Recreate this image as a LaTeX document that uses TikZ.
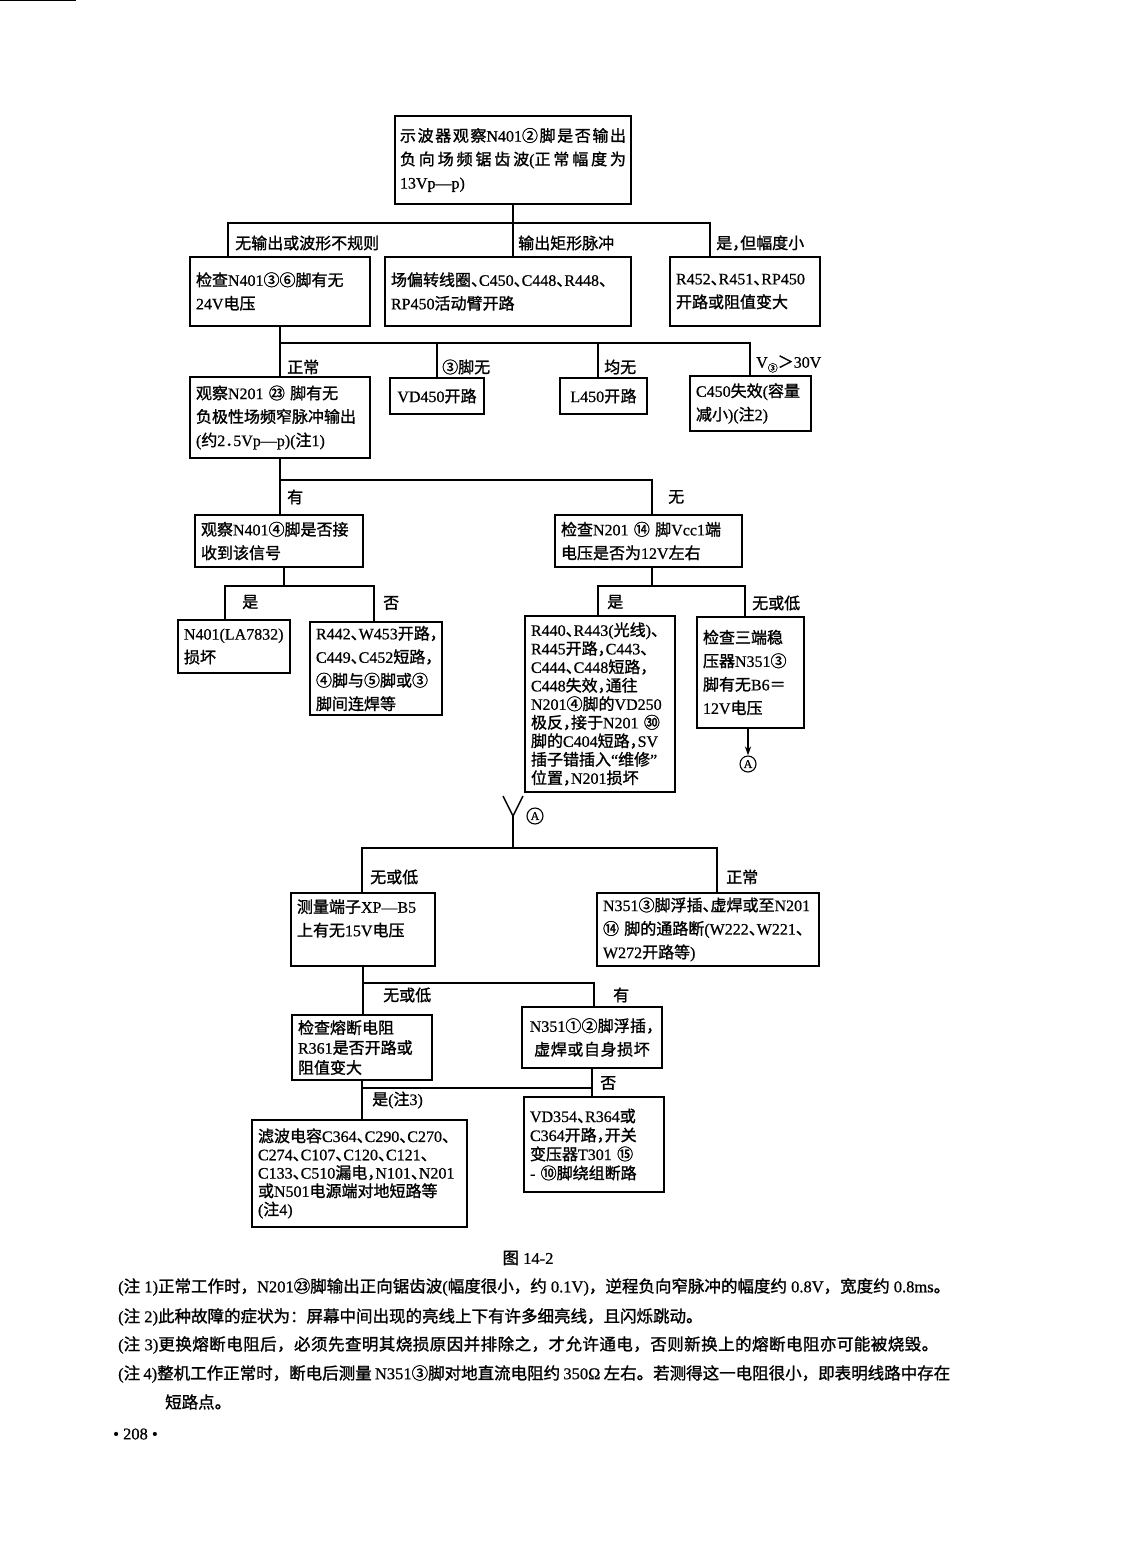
\documentclass[tikz,border=0pt]{standalone}
\usepackage{fontspec}
\setmainfont{Liberation Serif}
\newfontfamily\latfont[FakeBold=0.7]{Liberation Serif}
\newfontfamily\cjkfont[RawFeature=+halt, FakeBold=1.3]{Noto Sans CJK SC}
\newfontfamily\cjkfontfull[FakeBold=1.3]{Noto Sans CJK SC}
\usetikzlibrary{arrows.meta,calc}
\newcommand\cjkf{\cjkfont}
\newcount\cjkc
\newXeTeXintercharclass\CJKcls
\newcommand\setcjkrange[2]{\cjkc=#1\relax\loop\XeTeXcharclass\cjkc=\CJKcls\advance\cjkc by 1\relax\ifnum\cjkc<#2\relax\repeat}
\setcjkrange{"4E00}{"A000}
\setcjkrange{"3000}{"3040}
\setcjkrange{"3200}{"3300}
\setcjkrange{"FF00}{"FFF0}
\setcjkrange{"2460}{"2500}
\XeTeXinterchartoks 0 \CJKcls = {\cjkf}
\XeTeXinterchartoks 4095 \CJKcls = {\cjkf}
\XeTeXinterchartoks \CJKcls 0 = {\latfont}
\XeTeXinterchartoks \CJKcls 4095 = {\latfont}
\XeTeXinterchartoks \CJKcls \CJKcls = {\nobreak\hskip0pt plus 3pt\relax}
\XeTeXinterchartokenstate=1
\newcommand\bxf{\fontsize{16}{23.5}\selectfont\latfont}
\newcommand\notef{\renewcommand\cjkf{\cjkfontfull}\fontsize{16.5}{20}\selectfont\latfont}
\begin{document}
\begin{tikzpicture}[x=1pt,y=-1pt,
  bx/.style={draw, line width=1.6pt, inner xsep=6pt, inner ysep=2pt, outer sep=0pt, align=left, anchor=north west, font=\bxf},
  ln/.style={line width=1.4pt, line join=miter},
  lbl/.style={inner sep=0pt, anchor=west, font=\bxf},
  cA/.style={circle, draw, line width=1.1pt, inner sep=0pt, minimum size=16pt, font=\fontsize{12}{12}\selectfont\latfont},
  note/.style={inner sep=0pt, anchor=west, font=\notef}]
\useasboundingbox (0,0) rectangle (1122,1568);
\draw[line width=1pt] (0,1) -- (76,1);

% boxes
\node[bx, inner xsep=5pt, minimum width=236pt, minimum height=88pt, text width=226pt] (b1) at (395,116)
  {\makebox[226pt][s]{示波器观察N401②脚是否输出}\\\makebox[226pt][s]{负向场频锯齿波(正常幅度为}\\13Vp—p)};
\node[bx, minimum width=180pt, minimum height=69pt, text width=168pt] (b2) at (190,257)
  {检查N401③⑥脚有无\\24V电压};
\node[bx, minimum width=246pt, minimum height=69pt, text width=234pt] (b3) at (385,257)
  {场偏转线圈、C450、C448、R448、\\RP450活动臂开路};
\node[bx, minimum width=150pt, minimum height=69pt, text width=138pt] (b4) at (670,257)
  {R452、R451、RP450\\开路或阻值变大};
\node[bx, minimum width=180pt, minimum height=81pt, text width=168pt] (b5) at (190,377)
  {观察N201 ㉓ 脚有无\\负极性场频窄脉冲输出\\(约2．5Vp—p)(注1)};
\node[bx, align=center, minimum width=94pt, minimum height=36pt, text width=82pt] (b6) at (390,378)
  {VD450开路};
\node[bx, align=center, minimum width=87pt, minimum height=36pt, text width=75pt] (b7) at (560,378)
  {L450开路};
\node[bx, minimum width=121pt, minimum height=55pt, text width=109pt] (b8) at (690,376)
  {C450失效(容量\\减小)(注2)};
\node[bx, minimum width=168pt, minimum height=52pt, text width=156pt] (b9) at (195,515)
  {观察N401④脚是否接\\收到该信号};
\node[bx, minimum width=187pt, minimum height=52pt, text width=175pt] (b10) at (555,515)
  {检查N201 ⑭ 脚Vcc1端\\电压是否为12V左右};
\node[bx, minimum width=112pt, minimum height=53pt, text width=100pt] (b11) at (178,620)
  {N401(LA7832)\\损坏};
\node[bx, minimum width=132pt, minimum height=93pt, text width=120pt] (b12) at (310,622)
  {R442、W453开路，\\C449、C452短路，\\④脚与⑤脚或③\\脚间连焊等};
\node[bx, font={\fontsize{16}{18.5}\selectfont\latfont}, minimum width=150pt, minimum height=176pt, text width=138pt] (b13) at (525,616)
  {R440、R443(光线)、\\R445开路，C443、\\C444、C448短路，\\C448失效，通往\\N201④脚的VD250\\极反，接于N201 ㉚\\脚的C404短路，SV\\插子错插入“维修”\\位置，N201损坏};
\node[bx, minimum width=107pt, minimum height=111pt, text width=95pt] (b14) at (697,617)
  {检查三端稳\\压器N351③\\脚有无B6＝\\12V电压};
\node[bx, minimum width=144pt, minimum height=73pt, text width=132pt] (b15) at (291,893)
  {测量端子XP—B5\\上有无15V电压\\\mbox{}};
\node[bx, minimum width=222pt, minimum height=73pt, text width=210pt] (b16) at (597,893)
  {N351③脚浮插、虚焊或至N201\\⑭ 脚的通路断(W222、W221、\\W272开路等)};
\node[bx, font={\fontsize{16}{20}\selectfont\latfont}, minimum width=140pt, minimum height=65pt, text width=128pt] (b17) at (292,1015)
  {检查熔断电阻\\R361是否开路或\\阻值变大};
\node[bx, align=center, minimum width=140pt, minimum height=61pt, text width=128pt] (b18) at (522,1007)
  {N351①②脚浮插，\\虚焊或自身损坏};
\node[bx, font={\fontsize{16}{19}\selectfont\latfont}, minimum width=140pt, minimum height=95pt, text width=128pt] (b19) at (524,1097)
  {VD354、R364或\\C364开路，开关\\变压器T301 ⑮\\- ⑩脚绕组断路};
\node[bx, font={\fontsize{16}{18.3}\selectfont\latfont}, minimum width=215pt, minimum height=107pt, text width=203pt] (b20) at (252,1120)
  {滤波电容C364、C290、C270、\\C274、C107、C120、C121、\\C133、C510漏电，N101、N201\\或N501电源端对地短路等\\(注4)};

% bus 1
\coordinate (L1) at (228,223); \coordinate (R1) at (710,223);
\draw[ln] (L1 |- b2.north) -- (L1) -- (R1) -- (R1 |- b4.north);
\draw[ln] (b1.south) -- (b1.south |- b3.north);
% bus 2
\coordinate (L2) at (280,343); \coordinate (R2) at (750,343); \coordinate (J2) at (598,343);
\draw[ln] (b2.south) -- (b2.south |- b5.north);
\draw[ln] (L2) -- (R2) -- (R2 |- b8.north);
\draw[ln] (b6.north |- L2) -- (b6.north);
\draw[ln] (J2) -- (J2 |- b7.north);
% bus 3
\coordinate (L3) at (280,480); \coordinate (R3) at (652,480);
\draw[ln] (b5.south) -- (b5.south |- b9.north);
\draw[ln] (L3) -- (R3) -- (R3 |- b10.north);
% bus 4
\coordinate (T4) at (284,586); \coordinate (L4) at (225,586); \coordinate (R4) at (374,586);
\draw[ln] (T4 |- b9.south) -- (T4);
\draw[ln] (L4 |- b11.north) -- (L4) -- (R4) -- (R4 |- b12.north);
% bus 5
\coordinate (T5) at (652,586); \coordinate (L5) at (598,586); \coordinate (R5) at (745,586);
\draw[ln] (T5 |- b10.south) -- (T5);
\draw[ln] (L5 |- b13.north) -- (L5) -- (R5) -- (R5 |- b14.north);
% arrow to A
\node[cA] (A1) at (748,764) {A};
\draw[ln, -{Stealth[length=9pt,width=6pt]}] (A1 |- b14.south) -- (A1.north);
% Y with A
\coordinate (YL) at (503,796); \coordinate (YR) at (523,796); \coordinate (YJ) at (513,816); \coordinate (T6) at (513,848);
\node[cA] (A2) at (535,816) {A};
\draw[ln] (YL) -- (YJ) -- (YR);
\draw[ln] (YJ) -- (T6);
\coordinate (L6) at (362,848); \coordinate (R6) at (717,848);
\draw[ln] (L6 |- b15.north) -- (L6) -- (R6) -- (R6 |- b16.north);
% bus 7
\coordinate (L7) at (363,983); \coordinate (R7) at (594,983);
\draw[ln] (b15.south) -- (b15.south |- b17.north);
\draw[ln] (L7) -- (R7) -- (R7 |- b18.north);
% bus 8
\coordinate (L8) at (362,1088); \coordinate (R8) at (592,1088);
\draw[ln] (L8 |- b17.south) -- (L8 |- b20.north);
\draw[ln] (L8) -- (R8);
\draw[ln] (R8 |- b18.south) -- (R8 |- b19.north);

% labels
\node[lbl] (l1) at (235,243) {无输出或波形不规则};
\node[lbl] (l2) at (518,243) {输出矩形脉冲};
\node[lbl] (l3) at (716,243) {是，但幅度小};
\node[lbl] (l4) at (287,367) {正常};
\node[lbl] (l5) at (442,367) {③脚无};
\node[lbl] (l6) at (604,367) {均无};
\node[lbl] (l7) at (756,364) {V\raisebox{-4pt}{\fontsize{10}{10}\selectfont ③}＞30V};
\node[lbl] (l8) at (287,497) {有};
\node[lbl] (l9) at (668,497) {无};
\node[lbl] (l10) at (242,602) {是};
\node[lbl] (l11) at (383,603) {否};
\node[lbl] (l12) at (607,602) {是};
\node[lbl] (l13) at (752,603) {无或低};
\node[lbl] (l14) at (370,877) {无或低};
\node[lbl] (l15) at (726,877) {正常};
\node[lbl] (l16) at (383,995) {无或低};
\node[lbl] (l17) at (613,995) {有};
\node[lbl] (l18) at (600,1083) {否};
\node[lbl] (l19) at (372,1100) {是(注3)};

% caption and notes
\node[inner sep=0pt, font=\notef] (cap) at (528,1258) {图 14-2};
\node[note] (n1) at (118,1287) {\makebox[832pt][s]{(注 1)正常工作时，N201㉓脚输出正向锯齿波(幅度很小，约 0.1V)，逆程负向窄脉冲的幅度约 0.8V，宽度约 0.8ms。}};
\node[note] (n2) at (118,1317) {(注 2)此种故障的症状为：屏幕中间出现的亮线上下有许多细亮线，且闪烁跳动。};
\node[note] (n3) at (118,1345) {\makebox[820pt][s]{(注 3)更换熔断电阻后，必须先查明其烧损原因并排除之，才允许通电，否则新换上的熔断电阻亦可能被烧毁。}};
\node[note] (n4) at (118,1374) {\makebox[832pt][s]{(注 4)整机工作正常时，断电后测量 N351③脚对地直流电阻约 350Ω 左右。若测得这一电阻很小，即表明线路中存在}};
\node[note] (n5) at (165,1402) {短路点。};
\node[note] (pg) at (113,1434) {• 208 •};
\end{tikzpicture}
\end{document}
